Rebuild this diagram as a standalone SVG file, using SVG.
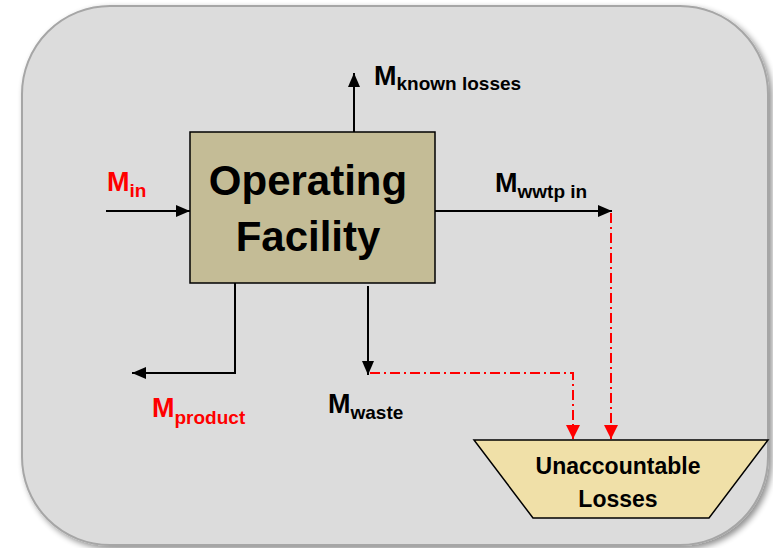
<svg xmlns="http://www.w3.org/2000/svg" width="773" height="548" viewBox="0 0 773 548">
  <defs>
    <filter id="shadow" x="-5%" y="-5%" width="112%" height="112%">
      <feGaussianBlur in="SourceAlpha" stdDeviation="3"/>
      <feOffset dx="3" dy="3" result="b"/>
      <feComponentTransfer><feFuncA type="linear" slope="0.45"/></feComponentTransfer>
      <feMerge><feMergeNode/><feMergeNode in="SourceGraphic"/></feMerge>
    </filter>
    <marker id="arrowBlack" viewBox="0 0 14 12" refX="14" refY="6" markerWidth="14" markerHeight="12" markerUnits="userSpaceOnUse" orient="auto">
      <path d="M0,0 L14,6 L0,12 Z" fill="#000"/>
    </marker>
    <marker id="arrowRed" viewBox="0 0 14 14" refX="14" refY="7" markerWidth="14" markerHeight="14" markerUnits="userSpaceOnUse" orient="auto">
      <path d="M0,0 L14,7 L0,14 Z" fill="#ff0000"/>
    </marker>
  </defs>
  <style>
    .lbl { font-family: "Liberation Sans", Arial, sans-serif; font-weight: bold; font-size: 27px; }
    .sub { font-size: 19px; }
    .red { fill: #ff0000; }
    .blk { fill: #000; }
    .flow { fill: none; stroke: #000; stroke-width: 2; }
    .loss { fill: none; stroke: #ff0000; stroke-width: 2; stroke-dasharray: 10 4 2 4; }
  </style>

  <!-- background panel -->
  <rect x="22" y="6" width="746" height="539" rx="88" ry="88" fill="#dcdcdc" stroke="#a6a6a6" stroke-width="2" filter="url(#shadow)"/>

  <!-- connectors -->
  <g id="connectors">
    <line class="flow" x1="106" y1="211" x2="190" y2="211" marker-end="url(#arrowBlack)"/>
    <line class="flow" x1="354" y1="132" x2="354" y2="73" marker-end="url(#arrowBlack)"/>
    <line class="flow" x1="435" y1="211" x2="612" y2="211" marker-end="url(#arrowBlack)"/>
    <polyline class="flow" points="235,283 235,373 132,373" marker-end="url(#arrowBlack)"/>
    <line class="flow" x1="368" y1="286" x2="368" y2="375" marker-end="url(#arrowBlack)"/>
    <polyline class="loss" points="370,373 573,373 573,439" marker-end="url(#arrowRed)"/>
    <line class="loss" x1="611" y1="213" x2="611" y2="439" marker-end="url(#arrowRed)"/>
  </g>

  <!-- main process -->
  <g id="operating-facility">
    <rect x="190" y="132" width="245" height="151" fill="#c4bc96" stroke="#000" stroke-width="1.5"/>
    <text x="308" y="195" text-anchor="middle" font-family="Liberation Sans, Arial, sans-serif" font-weight="bold" font-size="42">Operating</text>
    <text x="308" y="251" text-anchor="middle" font-family="Liberation Sans, Arial, sans-serif" font-weight="bold" font-size="42">Facility</text>
  </g>

  <!-- sink -->
  <g id="unaccountable-losses">
    <polygon points="474,440 768,440 709,518 533,518" fill="#f0e0a8" stroke="#000" stroke-width="1.5"/>
    <text x="618" y="474" text-anchor="middle" font-family="Liberation Sans, Arial, sans-serif" font-weight="bold" font-size="23">Unaccountable</text>
    <text x="618" y="507" text-anchor="middle" font-family="Liberation Sans, Arial, sans-serif" font-weight="bold" font-size="23">Losses</text>
  </g>

  <!-- stream labels -->
  <g id="label-in">
    <text class="lbl red" x="107" y="191">M<tspan class="sub" dy="6">in</tspan></text>
  </g>
  <g id="label-known-losses">
    <text class="lbl blk" x="374" y="85">M<tspan class="sub" dy="5">known losses</tspan></text>
  </g>
  <g id="label-wwtp-in">
    <text class="lbl blk" x="495" y="192">M<tspan class="sub" dy="6">wwtp in</tspan></text>
  </g>
  <g id="label-product">
    <text class="lbl red" x="152" y="417">M<tspan class="sub" dy="7">product</tspan></text>
  </g>
  <g id="label-waste">
    <text class="lbl blk" x="328" y="413">M<tspan class="sub" dy="6">waste</tspan></text>
  </g>
</svg>
